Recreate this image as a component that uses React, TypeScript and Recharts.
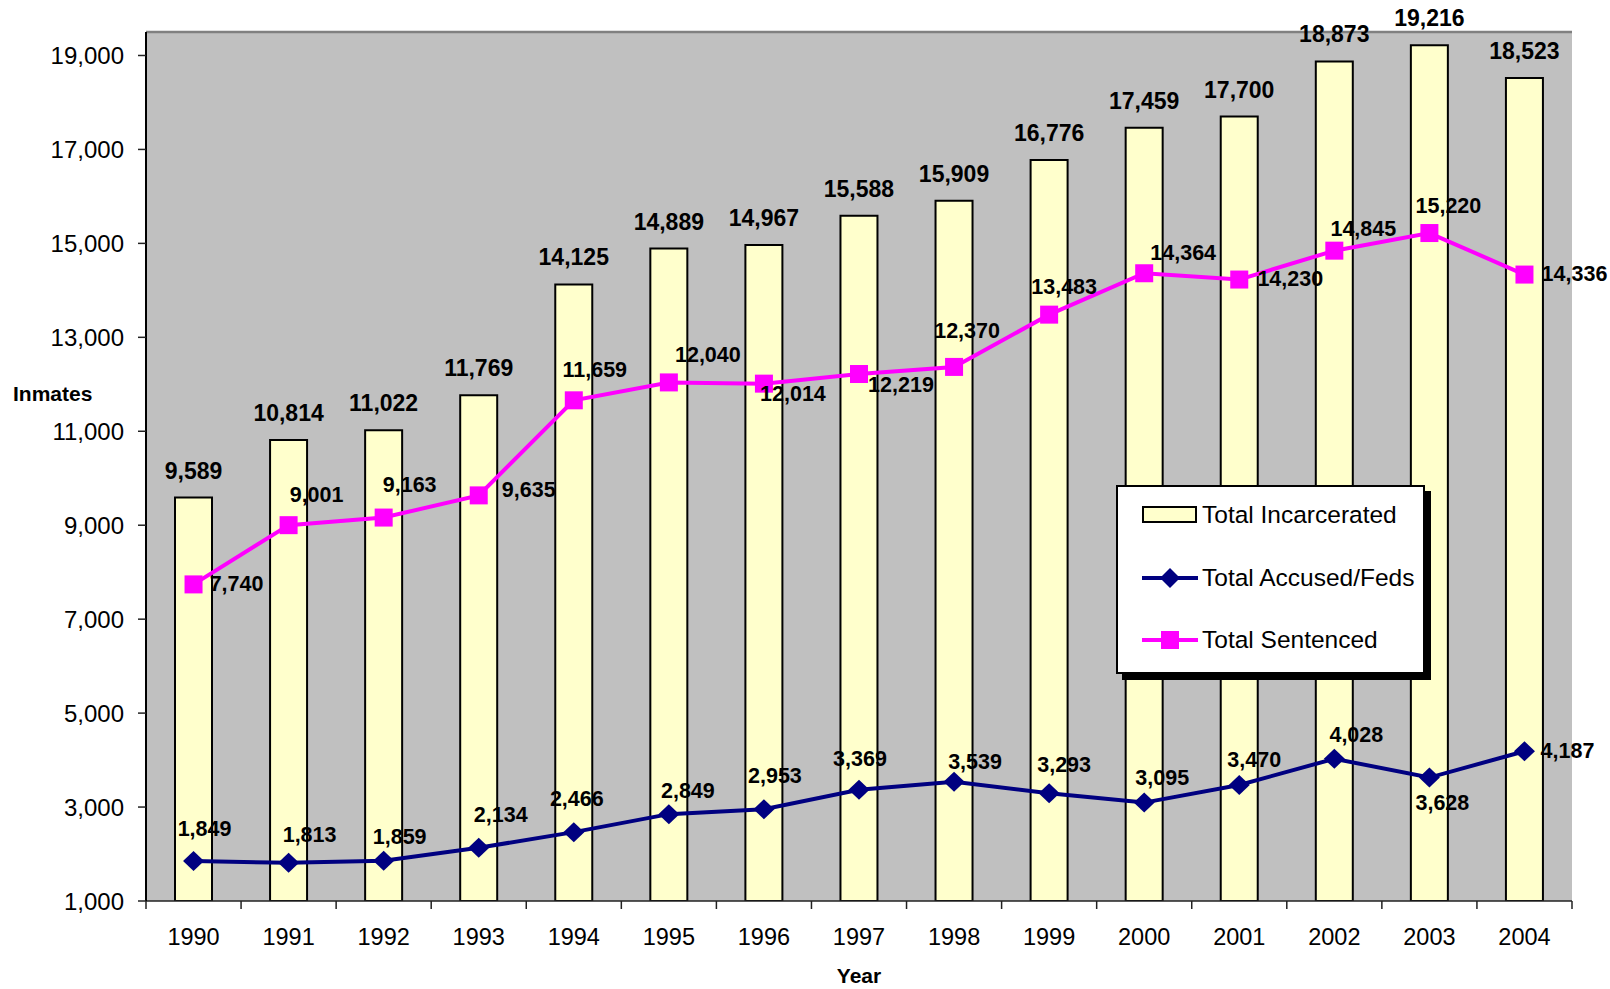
import React from 'react';
import {
  ComposedChart,
  Bar,
  Line,
  XAxis,
  YAxis,
  CartesianGrid,
  LabelList,
  Legend,
  ReferenceLine,
  Label,
} from 'recharts';

const FONT = '"Liberation Sans", Arial, sans-serif';

const years = ['1990', '1991', '1992', '1993', '1994', '1995', '1996', '1997', '1998', '1999', '2000', '2001', '2002', '2003', '2004'];
const totalIncarcerated = [9589, 10814, 11022, 11769, 14125, 14889, 14967, 15588, 15909, 16776, 17459, 17700, 18873, 19216, 18523];
const totalAccused = [1849, 1813, 1859, 2134, 2466, 2849, 2953, 3369, 3539, 3293, 3095, 3470, 4028, 3628, 4187];
const totalSentenced = [7740, 9001, 9163, 9635, 11659, 12040, 12014, 12219, 12370, 13483, 14364, 14230, 14845, 15220, 14336];
const yTicks = [1000, 3000, 5000, 7000, 9000, 11000, 13000, 15000, 17000, 19000];

// where each point label sits relative to its marker (label centre, px)
const accusedLabelShift = [
  [11, -32], [21, -28], [16, -24], [22, -33], [3, -33], [19, -23], [11, -33], [1, -31],
  [21, -20], [15, -28], [18, -25], [15, -25], [22, -24], [13, 25], [43, 0],
];
const sentencedLabelShift = [
  [43, 0], [28, -30], [26, -33], [50, -5], [21, -30], [39, -27], [29, 10], [42, 11],
  [13, -36], [15, -28], [39, -20], [51, -1], [29, -22], [19, -27], [50, -1],
];

const data = years.map((year, i) => ({
  year,
  incarcerated: totalIncarcerated[i],
  accused: totalAccused[i],
  sentenced: totalSentenced[i],
}));

const fmt = (v: any) => Number(v).toLocaleString('en-US');

const makePointLabel = (shift: number[][]) => (props: any) => {
  const { x, y, value, index } = props;
  const [dx, dy] = shift[index] || [0, -25];
  return (
    <text
      x={x + dx}
      y={y + dy}
      textAnchor="middle"
      dominantBaseline="central"
      fontFamily={FONT}
      fontSize={21.5}
      fontWeight="bold"
      fill="#000"
    >
      {fmt(value)}
    </text>
  );
};

const YearTick = (props: any) => {
  const { x, y, payload, index } = props;
  const half = payload.offset || 1426 / years.length / 2;
  return (
    <g>
      <line x1={x - half} x2={x - half} y1={y} y2={y + 8} stroke="#222" strokeWidth={1.5} />
      {index === years.length - 1 && (
        <line x1={x + half} x2={x + half} y1={y} y2={y + 8} stroke="#222" strokeWidth={1.5} />
      )}
      <text x={x} y={y + 36} textAnchor="middle" dominantBaseline="central" fontFamily={FONT} fontSize={23.5} fill="#000">
        {payload.value}
      </text>
    </g>
  );
};

const LegendBox = () => {
  const row = (top: number, icon: React.ReactNode, text: string) => (
    <div style={{ position: 'absolute', left: 24, top: top - 16, height: 32, display: 'flex', alignItems: 'center' }}>
      <svg width={56} height={32} style={{ display: 'block' }}>{icon}</svg>
      <span style={{ marginLeft: 4, fontSize: 24.5, color: '#000', whiteSpace: 'nowrap' }}>{text}</span>
    </div>
  );
  return (
    <div
      style={{
        position: 'relative',
        width: 309,
        height: 189,
        boxSizing: 'border-box',
        border: '2px solid #000',
        background: '#fff',
        boxShadow: '6px 6px 0 #000',
        fontFamily: FONT,
      }}
    >
      {row(28, <rect x={1} y={8} width={53} height={15} fill="#FFFFCC" stroke="#000" strokeWidth={2} />, 'Total Incarcerated')}
      {row(91, <g>
        <line x1={0} x2={56} y1={16} y2={16} stroke="#000080" strokeWidth={4} />
        <polygon points="28,6 38,16 28,26 18,16" fill="#000080" />
      </g>, 'Total Accused/Feds')}
      {row(153, <g>
        <line x1={0} x2={56} y1={16} y2={16} stroke="#FF00FF" strokeWidth={4} />
        <rect x={19} y={7} width={18} height={18} fill="#FF00FF" />
      </g>, 'Total Sentenced')}
    </div>
  );
};

export default function App() {
  return (
    <div style={{ position: 'absolute', left: 0, top: 0, width: 1610, height: 989, background: '#fff' }}>
      <ComposedChart
        width={1610}
        height={989}
        data={data}
        margin={{ top: 32, right: 38, left: 46, bottom: 28 }}
        style={{ fontFamily: FONT }}
      >
        <CartesianGrid horizontal={false} vertical={false} fill="#C0C0C0" fillOpacity={1} />
        <XAxis
          dataKey="year"
          interval={0}
          height={60}
          tickLine={false}
          tickSize={0}
          tickMargin={0}
          tick={<YearTick />}
          axisLine={{ stroke: '#222', strokeWidth: 1.5 }}
        >
          <Label
            content={(p: any) => (
              <text
                x={p.viewBox.x + p.viewBox.width / 2}
                y={975}
                textAnchor="middle"
                dominantBaseline="central"
                fontFamily={FONT}
                fontSize={21}
                fontWeight="bold"
                fill="#000"
              >
                Year
              </text>
            )}
          />
        </XAxis>
        <YAxis
          domain={[1000, 19500]}
          ticks={yTicks}
          allowDataOverflow
          width={100}
          tickFormatter={fmt}
          tick={{ fill: '#000', fontSize: 24, fontFamily: FONT }}
          tickSize={8}
          tickMargin={14}
          tickLine={{ stroke: '#222', strokeWidth: 1.5 }}
          axisLine={{ stroke: '#000', strokeWidth: 2 }}
        >
          <Label
            content={() => (
              <text x={13} y={393} textAnchor="start" dominantBaseline="central" fontFamily={FONT} fontSize={21} fontWeight="bold" fill="#000">
                Inmates
              </text>
            )}
          />
        </YAxis>
        <YAxis
          yAxisId="frame"
          orientation="right"
          width={0}
          domain={[0, 1]}
          tick={false}
          tickLine={false}
          axisLine={{ stroke: '#808080', strokeWidth: 2.5 }}
        />
        <ReferenceLine y={19500} stroke="#808080" strokeWidth={2.5} />
        <Legend
          layout="vertical"
          align="center"
          verticalAlign="middle"
          wrapperStyle={{ left: 1116, top: 485, width: 'auto' }}
          content={() => <LegendBox />}
        />
        <Bar
          dataKey="incarcerated"
          name="Total Incarcerated"
          barSize={37}
          fill="#FFFFCC"
          stroke="#000"
          strokeWidth={2}
          isAnimationActive={false}
        >
          <LabelList
            dataKey="incarcerated"
            position="top"
            offset={19}
            formatter={fmt}
            fill="#000"
            fontSize={23}
            fontWeight="bold"
            fontFamily={FONT}
          />
        </Bar>
        <Line
          dataKey="accused"
          name="Total Accused/Feds"
          stroke="#000080"
          strokeWidth={4}
          isAnimationActive={false}
          activeDot={false}
          dot={(p: any) => (
            <polygon
              key={`a-${p.index}`}
              points={`${p.cx},${p.cy - 10} ${p.cx + 10.5},${p.cy} ${p.cx},${p.cy + 10} ${p.cx - 10.5},${p.cy}`}
              fill="#000080"
            />
          )}
        >
          <LabelList dataKey="accused" content={makePointLabel(accusedLabelShift)} />
        </Line>
        <Line
          dataKey="sentenced"
          name="Total Sentenced"
          stroke="#FF00FF"
          strokeWidth={4}
          isAnimationActive={false}
          activeDot={false}
          dot={(p: any) => (
            <rect key={`s-${p.index}`} x={p.cx - 9} y={p.cy - 9} width={18} height={18} fill="#FF00FF" />
          )}
        >
          <LabelList dataKey="sentenced" content={makePointLabel(sentencedLabelShift)} />
        </Line>
      </ComposedChart>
    </div>
  );
}
